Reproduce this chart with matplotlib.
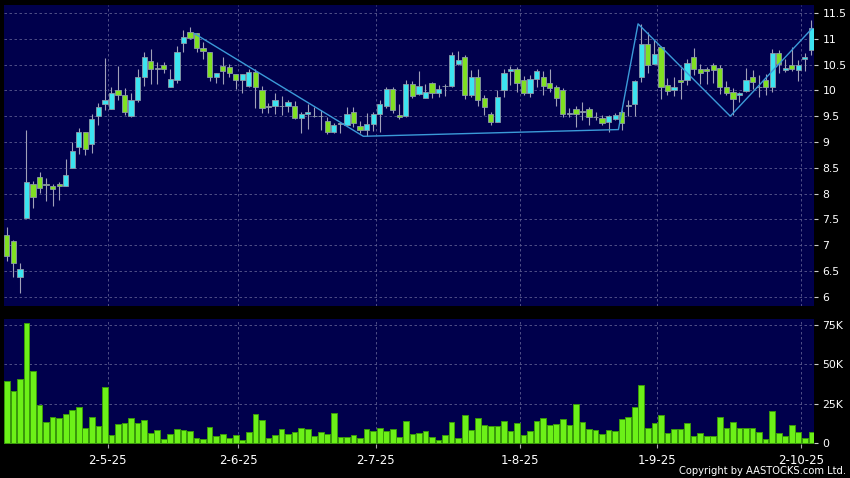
import matplotlib
matplotlib.use("Agg")
import matplotlib.pyplot as plt
import numpy as np

# daily OHLC
open_ = [7.19, 7.08, 6.39, 7.52, 8.19, 8.33, 8.18, 8.15, 8.18, 8.15,
         8.49, 8.90, 9.20, 8.96, 9.50, 9.73, 9.63, 10.00, 9.92, 9.50,
         9.82, 10.26, 10.57, 10.42, 10.49, 10.06, 10.20, 10.91, 11.13, 11.11,
         10.82, 10.75, 10.25, 10.48, 10.46, 10.31, 10.21, 10.09, 10.36, 10.00,
         9.68, 9.69, 9.69, 9.69, 9.69, 9.47, 9.55, 9.50, 9.50, 9.40,
         9.20, 9.35, 9.33, 9.58, 9.31, 9.24, 9.35, 9.55, 9.69, 10.02,
         9.53, 9.50, 10.13, 9.93, 9.86, 10.15, 9.94, 10.08, 10.08, 10.52,
         10.65, 9.91, 10.26, 9.86, 9.55, 9.39, 10.00, 10.38, 10.42, 10.21,
         9.95, 10.23, 10.25, 10.15, 10.06, 10.00, 9.55, 9.63, 9.58, 9.63,
         9.48, 9.46, 9.39, 9.45, 9.59, 9.70, 9.73, 10.25, 10.89, 10.52,
         10.84, 10.11, 10.00, 10.21, 10.20, 10.64, 10.42, 10.42, 10.49, 10.44,
         10.06, 9.97, 9.92, 9.98, 10.25, 10.06, 10.21, 10.06, 10.73, 10.39,
         10.50, 10.40, 10.60, 10.79]
high = [7.36, 7.10, 6.65, 9.23, 8.24, 8.41, 8.30, 8.18, 8.22, 8.66,
        9.00, 9.28, 9.20, 9.55, 9.76, 10.62, 10.06, 10.47, 10.04, 9.94,
        10.42, 10.75, 10.81, 10.55, 10.55, 10.42, 10.86, 11.18, 11.22, 11.11,
        10.94, 10.75, 10.33, 10.64, 10.52, 10.31, 10.31, 10.42, 10.42, 10.08,
        9.75, 9.94, 9.89, 9.82, 9.80, 9.58, 9.73, 9.67, 9.62, 9.49,
        9.36, 9.36, 9.67, 9.67, 9.41, 9.56, 9.58, 9.81, 10.06, 10.06,
        9.73, 10.20, 10.18, 10.38, 10.13, 10.17, 10.10, 10.12, 10.75, 10.77,
        10.68, 10.39, 10.42, 9.91, 9.58, 10.01, 10.42, 10.47, 10.46, 10.28,
        10.30, 10.42, 10.38, 10.42, 10.10, 10.05, 9.65, 9.70, 9.78, 9.67,
        9.59, 9.52, 9.52, 9.57, 9.62, 9.81, 10.21, 11.28, 11.14, 10.98,
        10.86, 10.24, 10.26, 10.43, 10.60, 10.83, 10.52, 10.46, 10.53, 10.49,
        10.19, 10.04, 9.97, 10.44, 10.39, 10.30, 10.32, 10.81, 10.78, 10.61,
        10.84, 10.58, 10.72, 11.37]
low = [6.70, 6.39, 6.08, 7.52, 7.72, 8.02, 7.86, 7.75, 7.88, 8.15,
       8.49, 8.77, 8.75, 8.78, 9.33, 9.62, 9.63, 9.82, 9.52, 9.48,
       9.78, 10.09, 10.13, 10.13, 10.34, 10.06, 10.15, 10.75, 11.00, 10.75,
       10.61, 10.18, 10.15, 10.13, 10.26, 10.02, 9.94, 10.06, 9.65, 9.57,
       9.57, 9.55, 9.52, 9.58, 9.44, 9.18, 9.26, 9.48, 9.24, 9.15,
       9.17, 9.17, 9.31, 9.29, 9.17, 9.11, 9.22, 9.20, 9.65, 9.57,
       9.44, 9.49, 9.86, 9.91, 9.86, 9.86, 9.88, 9.90, 10.06, 10.50,
       9.84, 9.88, 9.69, 9.52, 9.33, 9.39, 9.88, 10.10, 9.97, 9.91,
       9.87, 10.06, 9.91, 9.97, 9.69, 9.48, 9.48, 9.29, 9.43, 9.33,
       9.42, 9.33, 9.20, 9.42, 9.24, 9.50, 9.50, 10.17, 10.33, 10.51,
       9.84, 9.91, 9.89, 9.84, 10.10, 10.29, 10.13, 10.13, 10.15, 9.93,
       9.91, 9.52, 9.78, 9.97, 10.02, 9.88, 9.91, 9.97, 10.33, 10.36,
       10.38, 10.18, 10.38, 10.69]
close = [6.78, 6.65, 6.54, 8.22, 7.94, 8.10, 8.16, 8.08, 8.15, 8.36,
         8.83, 9.20, 8.86, 9.44, 9.67, 9.81, 9.95, 9.92, 9.58, 9.81,
         10.26, 10.65, 10.42, 10.42, 10.42, 10.22, 10.75, 11.04, 11.02, 10.83,
         10.76, 10.25, 10.33, 10.38, 10.33, 10.21, 10.31, 10.36, 10.06, 9.65,
         9.68, 9.81, 9.69, 9.77, 9.47, 9.55, 9.58, 9.50, 9.50, 9.20,
         9.33, 9.35, 9.54, 9.36, 9.24, 9.35, 9.54, 9.73, 10.02, 9.62,
         9.49, 10.13, 9.89, 10.08, 9.97, 9.94, 10.02, 10.08, 10.68, 10.58,
         9.91, 10.26, 9.81, 9.68, 9.39, 9.88, 10.34, 10.42, 10.15, 9.95,
         10.23, 10.38, 10.08, 10.04, 9.86, 9.55, 9.55, 9.55, 9.58, 9.48,
         9.48, 9.36, 9.50, 9.52, 9.37, 9.70, 10.18, 10.89, 10.50, 10.71,
         10.06, 9.98, 10.07, 10.16, 10.53, 10.42, 10.33, 10.37, 10.39, 10.06,
         9.94, 9.84, 9.95, 10.20, 10.16, 10.06, 10.06, 10.73, 10.51, 10.44,
         10.42, 10.50, 10.65, 11.20]
# volume in thousands of shares
volume_k = [39.5, 32.9, 40.4, 75.9, 45.5, 24.4, 13.7, 16.5, 16.2, 18.8,
            21.2, 22.9, 9.8, 16.5, 11.1, 35.5, 5.6, 12.2, 12.8, 16.0,
            12.8, 14.7, 6.8, 8.3, 2.6, 5.8, 8.8, 8.5, 7.7, 3.6,
            3.0, 10.3, 4.7, 6.0, 3.6, 5.6, 2.4, 7.3, 18.8, 15.0,
            3.6, 5.3, 8.8, 6.0, 7.1, 10.0, 9.2, 4.7, 7.3, 6.0,
            19.2, 4.1, 4.3, 5.3, 3.6, 9.2, 7.7, 9.8, 7.9, 9.0,
            3.8, 14.1, 6.0, 6.8, 7.7, 4.1, 2.4, 5.1, 13.2, 3.4,
            18.2, 8.5, 16.2, 11.3, 11.1, 10.7, 14.3, 7.9, 12.8, 5.3,
            7.7, 14.3, 16.0, 11.8, 12.0, 15.2, 11.5, 24.6, 13.2, 9.2,
            8.3, 5.8, 8.3, 8.1, 15.4, 16.9, 22.7, 36.8, 9.4, 12.8,
            18.0, 6.6, 9.0, 9.0, 12.8, 4.7, 6.8, 4.7, 4.5, 16.9,
            9.4, 13.7, 9.6, 10.0, 9.8, 7.1, 2.8, 20.7, 6.6, 4.7,
            11.8, 7.5, 3.6, 7.1]

date_labels = ["2-5-25", "2-6-25", "2-7-25", "1-8-25", "1-9-25", "2-10-25"]
date_index = [15, 35, 56, 78, 99, 121]

# hand-drawn trend line (candle index, price)
trend_x = [28.7, 54.5, 93.5, 96.5, 110.6, 123.1]
trend_y = [11.1, 9.11, 9.24, 11.29, 9.50, 11.2]

price_ticks = np.arange(6, 11.51, 0.5)
vol_ticks = [0, 25, 50, 75]
vol_tick_labels = ["0", "25K", "50K", "75K"]

BG = "#00004c"
GRID = "#5c5c90"
UP = "#3ce4f0"
DOWN = "#80e022"
FLAT = "#9aa0b0"

o = np.array(open_)
h = np.array(high)
lo = np.array(low)
c = np.array(close)
vol = np.array(volume_k) * 1000
x = np.arange(len(o))

plt.rcParams["font.family"] = ["DejaVu Sans"]
fig = plt.figure(figsize=(8.5, 4.78), dpi=100, facecolor="black")
ax = fig.add_axes([4 / 850, 1 - 306 / 478, 810 / 850, 301 / 478])
axv = fig.add_axes([4 / 850, 1 - 444 / 478, 810 / 850, 125 / 478])

xticks = np.array(date_index) + 0.4
for a in (ax, axv):
    a.set_facecolor(BG)
    for s in a.spines.values():
        s.set_visible(False)
    a.set_xlim(-0.43, 123.4)
    a.set_xticks(xticks)
    a.yaxis.tick_right()
    a.tick_params(axis="y", colors="#cccccc", labelcolor="white", labelsize=7.8,
                  length=3, pad=3)
    a.tick_params(axis="x", colors="#aaaaaa", labelcolor="white", labelsize=8.5,
                  length=3, pad=4)
    a.grid(True, color=GRID, linestyle=(0, (3, 3)), linewidth=0.6)
    a.set_axisbelow(True)

# price panel
ax.set_ylim(5.82, 11.655)
ax.set_yticks(price_ticks)
ax.set_yticklabels([f"{t:g}" for t in price_ticks])
ax.tick_params(axis="x", labelbottom=False, length=0)

colors = np.where(c > o, UP, np.where(c < o, DOWN, FLAT))
ax.vlines(x, lo, h, color="#a0a0b8", linewidth=0.8, zorder=2)
body = np.maximum(np.abs(c - o), 0.012)
ax.bar(x, body, bottom=np.minimum(o, c), width=0.8, color=colors,
       edgecolor="#8c9aa8", linewidth=0.6, zorder=3)
ax.plot(trend_x, trend_y, color="#3b9ad8", linewidth=1.0, zorder=4)

# volume panel
axv.set_ylim(-0.4e3, 78.6e3)
axv.set_yticks([v * 1000 for v in vol_ticks])
axv.set_yticklabels(vol_tick_labels)
axv.set_xticklabels(date_labels)
axv.bar(x, vol, width=0.87, color="#6cf018", edgecolor="#3a9a0a",
        linewidth=0.7, zorder=3)

fig.text(846 / 850, 1 - 471 / 478, "Copyright by AASTOCKS.com Ltd.", color="white",
         fontsize=7.2, ha="right", va="center")

fig.savefig("out.png", dpi=100, facecolor="black")
